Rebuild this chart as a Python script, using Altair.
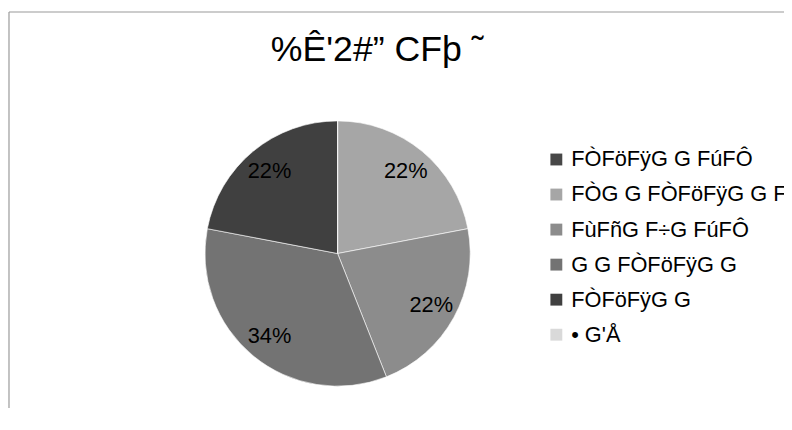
import altair as alt
import pandas as pd

# ---- data ----
categories = ["FÒFöFÿG G FúFÔ", "FÒG G FÒFöFÿG G FúFÔ", "FùFñG F÷G FúFÔ",
              "G G FÒFöFÿG G", "FÒFöFÿG G", " • G'Å"]
values = [0, 22, 22, 34, 22, 0]
colors = ["#474747", "#a6a6a6", "#8c8c8c", "#737373", "#404040", "#d9d9d9"]
title_text = "%Ê'2#” CFþ ˜"

df = pd.DataFrame({"cat": categories, "val": values, "idx": list(range(len(categories)))})

FONT = "Liberation Sans"
CX, CY, R = 333, 246, 134

color = alt.Color(
    "cat:N",
    sort=categories,
    scale=alt.Scale(domain=categories, range=colors),
    legend=alt.Legend(
        orient="none", legendX=543, legendY=140, title=None,
        symbolType="square", symbolSize=144, symbolStrokeWidth=0,
        labelFontSize=22, labelFont=FONT, labelColor="#000000",
        labelLimit=0, labelOffset=4, rowPadding=13.4,
    ),
)

base = alt.Chart(df)

pie = base.mark_arc(radius=R, stroke="#ffffff", strokeWidth=0.6).encode(
    theta=alt.Theta("val:Q", stack=True),
    color=color,
    order=alt.Order("idx:Q"),
    x=alt.value(CX),
    y=alt.value(CY),
)

labels = base.transform_joinaggregate(total="sum(val)").transform_calculate(
    frac="datum.val / datum.total"
).transform_filter("datum.val > 0").mark_text(
    radius=108, fontSize=22, font=FONT, color="#000000"
).encode(
    theta=alt.Theta("val:Q", stack=True),
    order=alt.Order("idx:Q"),
    text=alt.Text("frac:Q", format=".0%"),
    x=alt.value(CX),
    y=alt.value(CY),
)

title = alt.Chart(pd.DataFrame({"t": [title_text]})).mark_text(
    fontSize=36, font=FONT, color="#000000", align="center", baseline="alphabetic"
).encode(text="t:N", x=alt.value(373), y=alt.value(51))

frame_top = alt.Chart(pd.DataFrame({"k": [0]})).mark_rule(color="#9a9a9a", strokeWidth=1.2).encode(
    x=alt.value(1), x2=alt.value(800), y=alt.value(2)
)
frame_left = alt.Chart(pd.DataFrame({"k": [0]})).mark_rule(color="#9a9a9a", strokeWidth=1.2).encode(
    x=alt.value(1), y=alt.value(2), y2=alt.value(460)
)

chart = alt.layer(frame_top, frame_left, pie, labels, title).properties(
    width=784, height=400, padding=0,
    autosize=alt.AutoSizeParams(type="none"),
    background="#ffffff",
).configure_view(stroke=None)

chart.save("out.html", embed_options={"renderer": "svg", "actions": False})
